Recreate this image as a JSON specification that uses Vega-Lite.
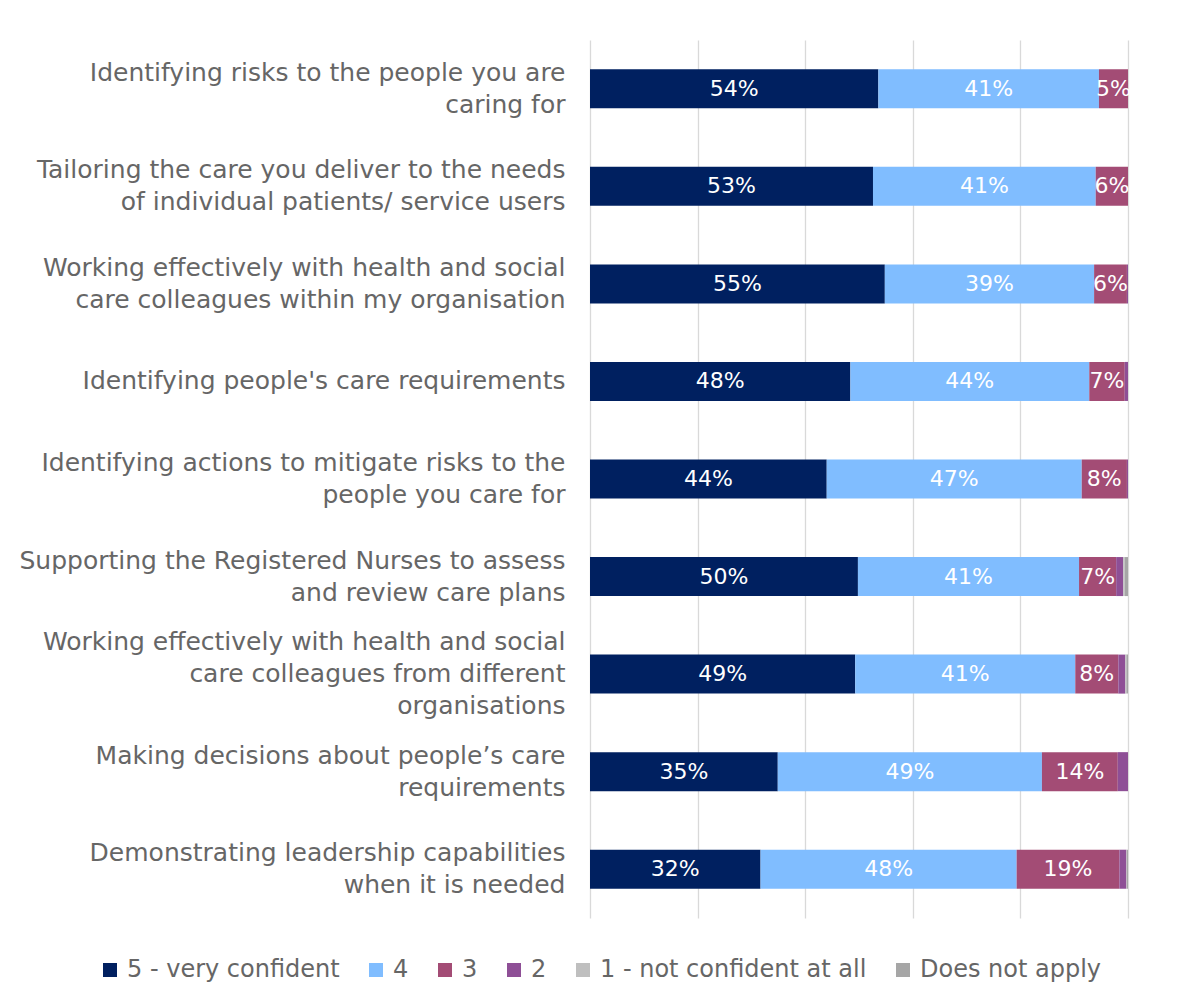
{
  "$schema": "https://vega.github.io/schema/vega-lite/v6.json",
  "width": 538,
  "height": 878,
  "padding": {"left": 10, "top": 40, "right": 60, "bottom": 10},
  "background": "white",
  "config": {
    "view": {"stroke": null},
    "font": "DejaVu Sans"
  },
  "data": {
    "values": [
      {"task": "Identifying risks to the people you are|caring for", "response": "5 - very confident", "rank": 1, "share": 0.536},
      {"task": "Identifying risks to the people you are|caring for", "response": "4", "rank": 2, "share": 0.410},
      {"task": "Identifying risks to the people you are|caring for", "response": "3", "rank": 3, "share": 0.054},
      {"task": "Tailoring the care you deliver to the needs|of individual patients/ service users", "response": "5 - very confident", "rank": 1, "share": 0.526},
      {"task": "Tailoring the care you deliver to the needs|of individual patients/ service users", "response": "4", "rank": 2, "share": 0.414},
      {"task": "Tailoring the care you deliver to the needs|of individual patients/ service users", "response": "3", "rank": 3, "share": 0.060},
      {"task": "Working effectively with health and social|care colleagues within my organisation", "response": "5 - very confident", "rank": 1, "share": 0.548},
      {"task": "Working effectively with health and social|care colleagues within my organisation", "response": "4", "rank": 2, "share": 0.389},
      {"task": "Working effectively with health and social|care colleagues within my organisation", "response": "3", "rank": 3, "share": 0.061},
      {"task": "Working effectively with health and social|care colleagues within my organisation", "response": "2", "rank": 4, "share": 0.002},
      {"task": "Identifying people's care requirements", "response": "5 - very confident", "rank": 1, "share": 0.484},
      {"task": "Identifying people's care requirements", "response": "4", "rank": 2, "share": 0.444},
      {"task": "Identifying people's care requirements", "response": "3", "rank": 3, "share": 0.066},
      {"task": "Identifying people's care requirements", "response": "2", "rank": 4, "share": 0.006},
      {"task": "Identifying actions to mitigate risks to the|people you care for", "response": "5 - very confident", "rank": 1, "share": 0.440},
      {"task": "Identifying actions to mitigate risks to the|people you care for", "response": "4", "rank": 2, "share": 0.474},
      {"task": "Identifying actions to mitigate risks to the|people you care for", "response": "3", "rank": 3, "share": 0.084},
      {"task": "Identifying actions to mitigate risks to the|people you care for", "response": "2", "rank": 4, "share": 0.002},
      {"task": "Supporting the Registered Nurses to assess |and review care plans", "response": "5 - very confident", "rank": 1, "share": 0.498},
      {"task": "Supporting the Registered Nurses to assess |and review care plans", "response": "4", "rank": 2, "share": 0.411},
      {"task": "Supporting the Registered Nurses to assess |and review care plans", "response": "3", "rank": 3, "share": 0.069},
      {"task": "Supporting the Registered Nurses to assess |and review care plans", "response": "2", "rank": 4, "share": 0.013},
      {"task": "Supporting the Registered Nurses to assess |and review care plans", "response": "1 - not confident at all", "rank": 5, "share": 0.003},
      {"task": "Supporting the Registered Nurses to assess |and review care plans", "response": "Does not apply", "rank": 6, "share": 0.006},
      {"task": "Working effectively with health and social |care colleagues from different |organisations", "response": "5 - very confident", "rank": 1, "share": 0.493},
      {"task": "Working effectively with health and social |care colleagues from different |organisations", "response": "4", "rank": 2, "share": 0.409},
      {"task": "Working effectively with health and social |care colleagues from different |organisations", "response": "3", "rank": 3, "share": 0.080},
      {"task": "Working effectively with health and social |care colleagues from different |organisations", "response": "2", "rank": 4, "share": 0.013},
      {"task": "Working effectively with health and social |care colleagues from different |organisations", "response": "1 - not confident at all", "rank": 5, "share": 0.002},
      {"task": "Working effectively with health and social |care colleagues from different |organisations", "response": "Does not apply", "rank": 6, "share": 0.003},
      {"task": "Making decisions about people’s care|requirements", "response": "5 - very confident", "rank": 1, "share": 0.349},
      {"task": "Making decisions about people’s care|requirements", "response": "4", "rank": 2, "share": 0.491},
      {"task": "Making decisions about people’s care|requirements", "response": "3", "rank": 3, "share": 0.141},
      {"task": "Making decisions about people’s care|requirements", "response": "2", "rank": 4, "share": 0.019},
      {"task": "Demonstrating leadership capabilities|when it is needed", "response": "5 - very confident", "rank": 1, "share": 0.317},
      {"task": "Demonstrating leadership capabilities|when it is needed", "response": "4", "rank": 2, "share": 0.476},
      {"task": "Demonstrating leadership capabilities|when it is needed", "response": "3", "rank": 3, "share": 0.191},
      {"task": "Demonstrating leadership capabilities|when it is needed", "response": "2", "rank": 4, "share": 0.013},
      {"task": "Demonstrating leadership capabilities|when it is needed", "response": "1 - not confident at all", "rank": 5, "share": 0.001},
      {"task": "Demonstrating leadership capabilities|when it is needed", "response": "Does not apply", "rank": 6, "share": 0.002}
    ]
  },
  "transform": [
    {"stack": "share", "groupby": ["task"], "sort": [{"field": "rank", "order": "ascending"}], "as": ["x0", "x1"]}
  ],
  "encoding": {
    "y": {
      "field": "task",
      "type": "nominal",
      "sort": null,
      "scale": {"paddingInner": 0.6, "paddingOuter": 0.3},
      "axis": {
        "title": null,
        "domain": false,
        "ticks": false,
        "labelExpr": "split(datum.label, '|')",
        "labelFontSize": 25,
        "labelColor": "#666666",
        "labelLineHeight": 32,
        "labelPadding": 25,
        "labelLimit": 700,
        "labelOffset": {
          "condition": [
            {"test": "indexof(datum.value, '|') < 0", "value": 0},
            {"test": "length(split(datum.value, '|')) >= 3", "value": -32}
          ],
          "value": -16
        },
        "minExtent": 580,
        "maxExtent": 580
      }
    }
  },
  "layer": [
    {
      "mark": {"type": "bar"},
      "encoding": {
        "x": {
          "field": "x0",
          "type": "quantitative",
          "scale": {"domain": [0, 1], "nice": false},
          "axis": {
            "title": null,
            "labels": false,
            "ticks": false,
            "domain": false,
            "grid": true,
            "gridColor": "#d9d9d9",
            "gridWidth": 1.3,
            "values": [0, 0.2, 0.4, 0.6, 0.8, 1]
          }
        },
        "x2": {"field": "x1"},
        "color": {
          "field": "response",
          "type": "nominal",
          "scale": {
            "domain": ["5 - very confident", "4", "3", "2", "1 - not confident at all", "Does not apply"],
            "range": ["#002060", "#80BDFF", "#A34C75", "#8E4F96", "#BFBFBF", "#A6A6A6"]
          },
          "legend": {
            "title": null,
            "orient": "none",
            "legendX": -492,
            "legendY": 918,
            "direction": "horizontal",
            "columns": 6,
            "symbolType": "square",
            "symbolSize": 196,
            "symbolStrokeWidth": 0,
            "labelFontSize": 24,
            "labelColor": "#666666",
            "labelLimit": 400,
            "columnPadding": 24,
            "labelOffset": 5
          }
        }
      }
    },
    {
      "transform": [
        {"filter": "datum.rank <= 3"},
        {"calculate": "(datum.x0 + datum.x1) / 2", "as": "xmid"}
      ],
      "mark": {"type": "text", "color": "white", "fontSize": 22, "baseline": "middle"},
      "encoding": {
        "x": {"field": "xmid", "type": "quantitative"},
        "text": {"field": "share", "type": "quantitative", "format": ".0%"}
      }
    }
  ]
}
